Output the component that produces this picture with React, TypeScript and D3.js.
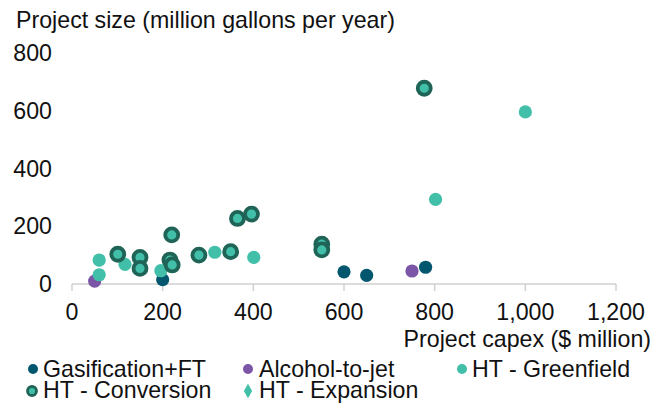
import React from "react";
import * as d3 from "d3";

type Pt = [number, number];

const gasificationFT: Pt[] = [[200, 15], [600, 42], [650, 30], [780, 58]];
const alcoholToJet: Pt[] = [[50, 10], [750, 45]];
const htGreenfield: Pt[] = [[60, 83], [60, 32], [117, 68], [196, 46], [315, 110], [401, 92], [802, 293], [1000, 596]];
const htConversion: Pt[] = [[101, 103], [150, 92], [150, 54], [220, 170], [216, 83], [221, 66], [280, 100], [350, 112], [365, 227], [396, 242], [551, 138], [551, 118], [777, 678]];
const htExpansion: Pt[] = [];

const xTicks = [0, 200, 400, 600, 800, 1000, 1200];
const yTicks = [0, 200, 400, 600, 800];

const C_GAS = "#02576f";
const C_ALC = "#7b55a6";
const C_LIGHT = "#42bfa9";
const C_CONV = "#1f6457";

const FONT = "'Liberation Sans', Arial, sans-serif";
const FS = 23.2;

export default function App() {
  const W = 654, H = 403;
  const x = d3.scaleLinear().domain([0, 1200]).range([72, 616]);
  const y = d3.scaleLinear().domain([0, 800]).range([284, 53]);
  const fmt = d3.format(",");
  const r = 6.6;

  return (
    <svg width={W} height={H} style={{ position: "absolute", left: 0, top: 0, background: "#fff" }} fontFamily={FONT}>
      <text x={16} y={28} fontSize={FS} fill="#111">Project size (million gallons per year)</text>
      {yTicks.map(t => (
        <text key={t} x={52} y={y(t) + 8} fontSize={FS} textAnchor="end" fill="#111">{t}</text>
      ))}
      <line x1={x(0)} x2={x(1200)} y1={y(0)} y2={y(0)} stroke="#d0d0d0" strokeWidth={1.5} />
      {xTicks.map(t => (
        <g key={t}>
          <line x1={x(t)} x2={x(t)} y1={y(0)} y2={y(0) + 7} stroke="#d0d0d0" strokeWidth={1.5} />
          <text x={x(t)} y={320} fontSize={FS} textAnchor="middle" fill="#111">{fmt(t)}</text>
        </g>
      ))}
      <text x={651} y={347} fontSize={FS} textAnchor="end" fill="#111">Project capex ($ million)</text>

      {gasificationFT.map((d, i) => <circle key={"g" + i} cx={x(d[0])} cy={y(d[1])} r={r} fill={C_GAS} />)}
      {alcoholToJet.map((d, i) => <circle key={"a" + i} cx={x(d[0])} cy={y(d[1])} r={r} fill={C_ALC} />)}
      {htGreenfield.map((d, i) => <circle key={"h" + i} cx={x(d[0])} cy={y(d[1])} r={r} fill={C_LIGHT} />)}
      {htConversion.map((d, i) => <circle key={"c" + i} cx={x(d[0])} cy={y(d[1])} r={6.5} fill={C_LIGHT} stroke={C_CONV} strokeWidth={3.8} />)}
      {htExpansion.map((d, i) => (
        <path key={"e" + i} transform={`translate(${x(d[0])},${y(d[1])})`} d={d3.symbol(d3.symbolDiamond, 120)() || ""} fill={C_LIGHT} />
      ))}

      <g fontSize={FS} fill="#111">
        <circle cx={33} cy={369} r={5} fill={C_GAS} />
        <text x={43} y={377}>Gasification+FT</text>
        <circle cx={248} cy={369} r={5} fill={C_ALC} />
        <text x={259} y={377}>Alcohol-to-jet</text>
        <circle cx={462} cy={369} r={5} fill={C_LIGHT} />
        <text x={472} y={377}>HT - Greenfield</text>
        <circle cx={32} cy={391} r={4.5} fill={C_LIGHT} stroke={C_CONV} strokeWidth={2.8} />
        <text x={43} y={398}>HT - Conversion</text>
        <path transform="translate(248,391)" d={d3.symbol(d3.symbolDiamond, 60)() || ""} fill={C_LIGHT} />
        <text x={259} y={398}>HT - Expansion</text>
      </g>
    </svg>
  );
}
